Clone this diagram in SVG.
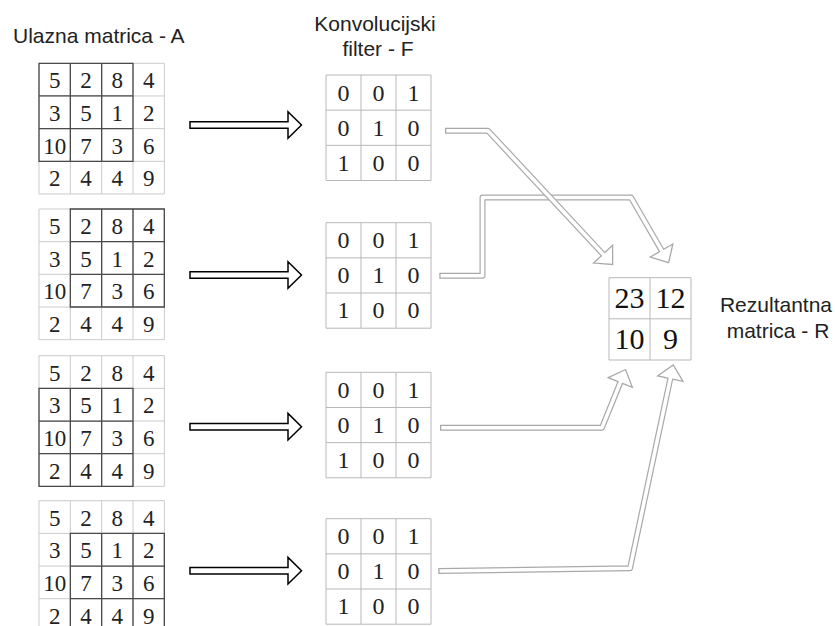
<svg xmlns="http://www.w3.org/2000/svg" xmlns:xlink="http://www.w3.org/1999/xlink" width="835" height="626" viewBox="0 0 835 626">
<style>
.lbl{font-family:"Liberation Sans",Arial,sans-serif;font-size:21px;fill:#222}
.num{font-family:"Liberation Serif","Times New Roman",serif;font-size:23px;fill:#222;text-anchor:middle}
.fnum{font-family:"Liberation Serif","Times New Roman",serif;font-size:24px;fill:#222;text-anchor:middle}
.rnum{font-family:"Liberation Serif","Times New Roman",serif;font-size:30px;fill:#111;text-anchor:middle}
.light{fill:none;stroke:#cbcbcb;stroke-width:1}
.dark{fill:none;stroke:#4a4a4a;stroke-width:1.3}
.fgrid{fill:none;stroke:#b8b8b8;stroke-width:1}
.barrow{fill:#fff;stroke:#000;stroke-width:1.5;stroke-linejoin:miter}
.gout{fill:none;stroke:#a9a9a9;stroke-width:6;stroke-linejoin:round}
.gin{fill:none;stroke:#fff;stroke-width:3.6;stroke-linejoin:round}
.ghead{fill:#fff;stroke:#a9a9a9;stroke-width:1.3;stroke-linejoin:miter}
</style>
<defs>
<path id="grid4" d="M0 0H125.33V130.67H0Z M31.33 0V130.67 M62.67 0V130.67 M94 0V130.67 M0 32.67H125.33 M0 65.33H125.33 M0 98H125.33"/>
<path id="win3" d="M0 0H94V98H0Z M31.33 0V98 M62.67 0V98 M0 32.67H94 M0 65.33H94"/>
<path id="grid3" d="M0 0H105V105.5H0Z M35 0V105.5 M70 0V105.5 M0 35.17H105 M0 70.33H105"/>
<polygon id="bhead" points="190,-3.3 288,-3.3 288,-13.3 301.5,0 288,13.3 288,3.3 190,3.3"/>
<polygon id="gh" points="0,-13 14,0 0,13"/>
</defs>
<rect width="835" height="626" fill="#fff"/>

<text class="lbl" x="13" y="42.5">Ulazna matrica - A</text>
<text class="lbl" x="375" y="30.5" text-anchor="middle">Konvolucijski</text>
<text class="lbl" x="378" y="56" text-anchor="middle">filter - F</text>
<text class="lbl" x="776" y="311.5" text-anchor="middle">Rezultantna</text>
<text class="lbl" x="778" y="337.5" text-anchor="middle">matrica - R</text>

<g id="matrixA1" transform="translate(39,63.3)">
<use href="#grid4" class="light"/>
<use href="#win3" class="dark"/>
<text class="num" x="15.67" y="25">5</text><text class="num" x="47" y="25">2</text><text class="num" x="78.33" y="25">8</text><text class="num" x="109.67" y="25">4</text>
<text class="num" x="15.67" y="57.67">3</text><text class="num" x="47" y="57.67">5</text><text class="num" x="78.33" y="57.67">1</text><text class="num" x="109.67" y="57.67">2</text>
<text class="num" x="15.67" y="90.33">10</text><text class="num" x="47" y="90.33">7</text><text class="num" x="78.33" y="90.33">3</text><text class="num" x="109.67" y="90.33">6</text>
<text class="num" x="15.67" y="123">2</text><text class="num" x="47" y="123">4</text><text class="num" x="78.33" y="123">4</text><text class="num" x="109.67" y="123">9</text>
</g>
<g id="matrixA2" transform="translate(39,209)">
<use href="#grid4" class="light"/>
<use href="#win3" class="dark" x="31.33"/>
<text class="num" x="15.67" y="25">5</text><text class="num" x="47" y="25">2</text><text class="num" x="78.33" y="25">8</text><text class="num" x="109.67" y="25">4</text>
<text class="num" x="15.67" y="57.67">3</text><text class="num" x="47" y="57.67">5</text><text class="num" x="78.33" y="57.67">1</text><text class="num" x="109.67" y="57.67">2</text>
<text class="num" x="15.67" y="90.33">10</text><text class="num" x="47" y="90.33">7</text><text class="num" x="78.33" y="90.33">3</text><text class="num" x="109.67" y="90.33">6</text>
<text class="num" x="15.67" y="123">2</text><text class="num" x="47" y="123">4</text><text class="num" x="78.33" y="123">4</text><text class="num" x="109.67" y="123">9</text>
</g>
<g id="matrixA3" transform="translate(39,355.7)">
<use href="#grid4" class="light"/>
<use href="#win3" class="dark" y="32.67"/>
<text class="num" x="15.67" y="25">5</text><text class="num" x="47" y="25">2</text><text class="num" x="78.33" y="25">8</text><text class="num" x="109.67" y="25">4</text>
<text class="num" x="15.67" y="57.67">3</text><text class="num" x="47" y="57.67">5</text><text class="num" x="78.33" y="57.67">1</text><text class="num" x="109.67" y="57.67">2</text>
<text class="num" x="15.67" y="90.33">10</text><text class="num" x="47" y="90.33">7</text><text class="num" x="78.33" y="90.33">3</text><text class="num" x="109.67" y="90.33">6</text>
<text class="num" x="15.67" y="123">2</text><text class="num" x="47" y="123">4</text><text class="num" x="78.33" y="123">4</text><text class="num" x="109.67" y="123">9</text>
</g>
<g id="matrixA4" transform="translate(39,500.7)">
<use href="#grid4" class="light"/>
<use href="#win3" class="dark" x="31.33" y="32.67"/>
<text class="num" x="15.67" y="25">5</text><text class="num" x="47" y="25">2</text><text class="num" x="78.33" y="25">8</text><text class="num" x="109.67" y="25">4</text>
<text class="num" x="15.67" y="57.67">3</text><text class="num" x="47" y="57.67">5</text><text class="num" x="78.33" y="57.67">1</text><text class="num" x="109.67" y="57.67">2</text>
<text class="num" x="15.67" y="90.33">10</text><text class="num" x="47" y="90.33">7</text><text class="num" x="78.33" y="90.33">3</text><text class="num" x="109.67" y="90.33">6</text>
<text class="num" x="15.67" y="123">2</text><text class="num" x="47" y="123">4</text><text class="num" x="78.33" y="123">4</text><text class="num" x="109.67" y="123">9</text>
</g>

<g id="filterF1" transform="translate(326,75)">
<use href="#grid3" class="fgrid"/>
<text class="fnum" x="17.5" y="25.5">0</text><text class="fnum" x="52.5" y="25.5">0</text><text class="fnum" x="87.5" y="25.5">1</text>
<text class="fnum" x="17.5" y="60.7">0</text><text class="fnum" x="52.5" y="60.7">1</text><text class="fnum" x="87.5" y="60.7">0</text>
<text class="fnum" x="17.5" y="95.8">1</text><text class="fnum" x="52.5" y="95.8">0</text><text class="fnum" x="87.5" y="95.8">0</text>
</g>
<g id="filterF2" transform="translate(326,222.7)">
<use href="#grid3" class="fgrid"/>
<text class="fnum" x="17.5" y="25.5">0</text><text class="fnum" x="52.5" y="25.5">0</text><text class="fnum" x="87.5" y="25.5">1</text>
<text class="fnum" x="17.5" y="60.7">0</text><text class="fnum" x="52.5" y="60.7">1</text><text class="fnum" x="87.5" y="60.7">0</text>
<text class="fnum" x="17.5" y="95.8">1</text><text class="fnum" x="52.5" y="95.8">0</text><text class="fnum" x="87.5" y="95.8">0</text>
</g>
<g id="filterF3" transform="translate(326,372.3)">
<use href="#grid3" class="fgrid"/>
<text class="fnum" x="17.5" y="25.5">0</text><text class="fnum" x="52.5" y="25.5">0</text><text class="fnum" x="87.5" y="25.5">1</text>
<text class="fnum" x="17.5" y="60.7">0</text><text class="fnum" x="52.5" y="60.7">1</text><text class="fnum" x="87.5" y="60.7">0</text>
<text class="fnum" x="17.5" y="95.8">1</text><text class="fnum" x="52.5" y="95.8">0</text><text class="fnum" x="87.5" y="95.8">0</text>
</g>
<g id="filterF4" transform="translate(326,518.7)">
<use href="#grid3" class="fgrid"/>
<text class="fnum" x="17.5" y="25.5">0</text><text class="fnum" x="52.5" y="25.5">0</text><text class="fnum" x="87.5" y="25.5">1</text>
<text class="fnum" x="17.5" y="60.7">0</text><text class="fnum" x="52.5" y="60.7">1</text><text class="fnum" x="87.5" y="60.7">0</text>
<text class="fnum" x="17.5" y="95.8">1</text><text class="fnum" x="52.5" y="95.8">0</text><text class="fnum" x="87.5" y="95.8">0</text>
</g>

<g id="resultR">
<path class="fgrid" d="M609 277.7H691V360H609Z M650 277.7V360 M609 318.8H691"/>
<text class="rnum" x="629.5" y="307.5">23</text><text class="rnum" x="670.5" y="307.5">12</text>
<text class="rnum" x="629.5" y="348.6">10</text><text class="rnum" x="670.5" y="348.6">9</text>
</g>

<g id="connectors">
<use href="#bhead" class="barrow" transform="translate(0,125)"/>
<use href="#bhead" class="barrow" transform="translate(0,275)"/>
<use href="#bhead" class="barrow" transform="translate(0,426.7)"/>
<use href="#bhead" class="barrow" transform="translate(0,570.7)"/>

<path class="gout" d="M439.3 275.8H482.5V197.5H631L661.6 250.5"/>
<use href="#gh" class="ghead" transform="translate(661.6,250.5) rotate(60)"/>
<path class="gin" d="M440.6 275.8H482.5V197.5H631L662.9 252.7"/>

<path class="gout" d="M445 130.8H488L603.1 254.2"/>
<use href="#gh" class="ghead" transform="translate(603.1,254.2) rotate(47)"/>
<path class="gin" d="M446.3 130.8H488L604.8 256"/>

<path class="gout" d="M440 427.7H602L620.3 382.5"/>
<use href="#gh" class="ghead" transform="translate(620.3,382.5) rotate(-68)"/>
<path class="gin" d="M441.3 427.7H602L621.2 380.2"/>

<path class="gout" d="M438.3 571L630 568.3L670.3 378.7"/>
<use href="#gh" class="ghead" transform="translate(670.3,378.7) rotate(-78)"/>
<path class="gin" d="M439.6 571L630 568.3L670.8 376.3"/>
</g>
</svg>
